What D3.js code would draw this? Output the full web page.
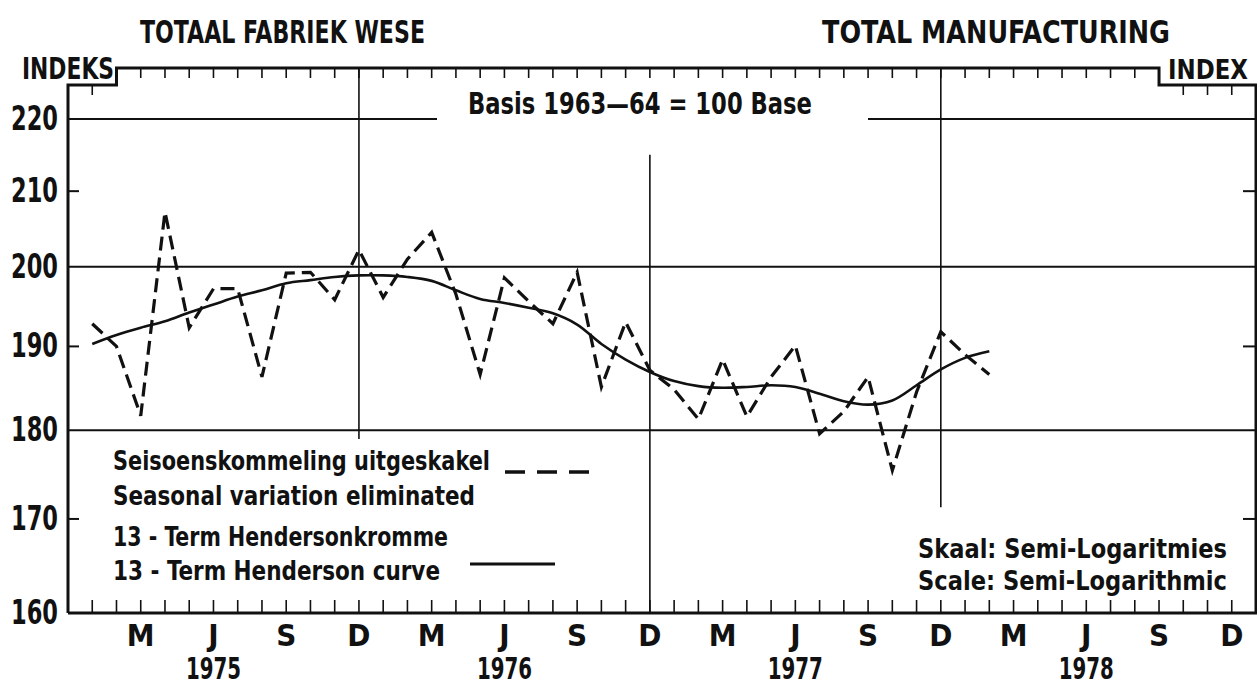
<!DOCTYPE html>
<html><head><meta charset="utf-8">
<script src="https://cdnjs.cloudflare.com/ajax/libs/d3/7.8.5/d3.min.js"></script>
<style>
html,body{margin:0;padding:0;background:#fff;}
svg{display:block;}
text{font-family:"Liberation Sans Narrow","DejaVu Sans Condensed","Roboto Condensed",sans-serif;font-weight:bold;fill:#111;}
</style></head><body>
<svg id="chart" width="1257" height="686"></svg>
<script>
// ---------- DATA ----------
const years = [1975, 1976, 1977, 1978];
const monthNames = ["Jan","Feb","Mar","Apr","May","Jun","Jul","Aug","Sep","Oct","Nov","Dec"];
// quarter tick labels (month -> letter)
const quarterMonths = ["Mar","Jun","Sep","Dec"];
const quarterLetters = ["M","J","S","D"];
const yearLabelMonth = "Jun";
const yTicks = [160, 170, 180, 190, 200, 210, 220];
const yGridFull = [200, 180];
const yGridPartial = [220];
const yTickOnly = [210, 190, 170];

// Seasonally adjusted index, Jan 1975 .. Feb 1978
const seasonal = [
  192.8, 190.0, 181.7, 207.2, 192.3, 197.2, 197.2, 186.3, 199.2, 199.3, 195.8, 202.2,
  196.1, 201.0, 204.5, 196.5, 186.6, 198.6, 195.6, 192.8, 199.3, 185.1, 193.0, 187.1,
  184.8, 181.3, 188.4, 181.6, 186.3, 190.1, 179.6, 182.2, 186.3, 175.4, 184.5, 191.8,
  189.0, 186.6
];
// 13-term Henderson curve, Jan 1975 .. Feb 1978
const henderson = [
  190.3, 191.4, 192.3, 193.1, 194.2, 195.2, 196.2, 197.0, 197.9, 198.3, 198.7, 198.9,
  198.9, 198.7, 198.2, 197.0, 195.9, 195.4, 194.8, 194.1, 192.7, 190.3, 188.4, 186.9,
  185.8, 185.2, 185.0, 185.1, 185.3, 185.1, 184.3, 183.4, 183.0, 183.5, 185.3, 187.2,
  188.6, 189.4
];

// ---------- CATEGORIES ----------
const axisMonths = ["Dec 1974"];
years.forEach(yr => monthNames.forEach(m => axisMonths.push(m + " " + yr)));
axisMonths.push("Jan 1979");
const seriesMonths = axisMonths.slice(1, 1 + seasonal.length);
const plotMonths = axisMonths.slice(1, axisMonths.length - 1);

// ---------- LAYOUT ----------
const L = 68, R = 1256, T = 68, STEP = 85, B = 613, YTOP = 119;
const ink = "#111";
const svg = d3.select("#chart");

const x = d3.scalePoint().domain(axisMonths).range([L, R]);
const y = d3.scaleLog().domain([160, 220]).range([B, YTOP]);

const stepL = x("Feb 1975"), stepR = x("Sep 1978");

function txt(s, px, py, size, opts = {}) {
  const t = svg.append("text").attr("x", px).attr("y", py).attr("font-size", size).text(s);
  if (opts.anchor) t.attr("text-anchor", opts.anchor);
  if (opts.len) t.attr("textLength", opts.len).attr("lengthAdjust", "spacingAndGlyphs");
  if (opts.weight) t.style("font-weight", opts.weight);
  return t;
}

// gridlines
const g = svg.append("g").attr("stroke", ink).attr("fill", "none");
yGridFull.forEach(v => g.append("line").attr("x1", L).attr("x2", R).attr("y1", y(v)).attr("y2", y(v)).attr("stroke-width", 2));

// Basis text + partial 220 gridline around it
txt("Basis 1963\u201464 = 100 Base", 468, 114, 30, {len: 344});
yGridPartial.forEach(v => {
  g.append("line").attr("x1", L).attr("x2", 437).attr("y1", y(v)).attr("y2", y(v)).attr("stroke-width", 2);
  g.append("line").attr("x1", 868).attr("x2", R).attr("y1", y(v)).attr("y2", y(v)).attr("stroke-width", 2);
});

// vertical December lines
g.append("line").attr("x1", x("Dec 1975")).attr("x2", x("Dec 1975")).attr("y1", T).attr("y2", y(179)).attr("stroke-width", 1.6);
g.append("line").attr("x1", x("Dec 1976")).attr("x2", x("Dec 1976")).attr("y1", y(215)).attr("y2", B).attr("stroke-width", 1.6);
g.append("line").attr("x1", x("Dec 1977")).attr("x2", x("Dec 1977")).attr("y1", T).attr("y2", y(171.3)).attr("stroke-width", 1.6);

// frame
const frame = [[L, B], [L, STEP], [stepL, STEP], [stepL, T], [stepR, T], [stepR, STEP], [R, STEP], [R, B], [L, B]];
g.append("path").attr("d", d3.line()(frame)).attr("stroke-width", 3).attr("stroke-linejoin", "miter");

// month ticks (top and bottom)
plotMonths.forEach(m => {
  const px = x(m);
  const top = (px < stepL - 1 || px > stepR + 1) ? STEP : T;
  g.append("line").attr("x1", px).attr("x2", px).attr("y1", top).attr("y2", top + 10).attr("stroke-width", 1.6);
  g.append("line").attr("x1", px).attr("x2", px).attr("y1", B).attr("y2", B - 13).attr("stroke-width", 1.6);
});

// y tick marks (left and right)
yTickOnly.forEach(v => {
  g.append("line").attr("x1", L).attr("x2", L + 11).attr("y1", y(v)).attr("y2", y(v)).attr("stroke-width", 2);
  g.append("line").attr("x1", R).attr("x2", R - 13).attr("y1", y(v)).attr("y2", y(v)).attr("stroke-width", 2);
});

// y labels
yTicks.forEach(v => txt(String(v), 58, y(v) + 11, 33, {anchor: "end", len: 47}));

// x labels
years.forEach(yr => {
  quarterMonths.forEach((m, i) => txt(quarterLetters[i], x(m + " " + yr), 646, 31, {anchor: "middle"}));
  txt(String(yr), x(yearLabelMonth + " " + yr), 679, 31, {anchor: "middle", len: 55});
});

// titles
txt("TOTAAL FABRIEK WESE", 140, 43, 32, {len: 285});
txt("TOTAL MANUFACTURING", 822, 43, 32, {len: 348});
txt("INDEKS", 22, 79, 30, {len: 92});
txt("INDEX", 1248, 79, 26, {anchor: "end", len: 80});

// legend
txt("Seisoenskommeling uitgeskakel", 113, 470, 27, {len: 377});
txt("Seasonal variation eliminated", 113, 505, 27, {len: 362});
txt("13 - Term Hendersonkromme", 113, 546, 27, {len: 335});
txt("13 - Term Henderson curve", 113, 580, 27, {len: 327});
g.append("line").attr("x1", 505).attr("x2", 590).attr("y1", 472).attr("y2", 472)
  .attr("stroke-width", 3.5).attr("stroke-dasharray", "20,12");
g.append("line").attr("x1", 470).attr("x2", 555).attr("y1", 564).attr("y2", 564).attr("stroke-width", 3);

txt("Skaal: Semi-Logaritmies", 918, 558, 27, {len: 309});
txt("Scale: Semi-Logarithmic", 918, 590, 27, {len: 309});

// series
const lineSeasonal = d3.line().x((d, i) => x(seriesMonths[i])).y(d => y(d));
const lineHend = d3.line().x((d, i) => x(seriesMonths[i])).y(d => y(d)).curve(d3.curveCatmullRom.alpha(0.5));

svg.append("path").datum(henderson).attr("d", lineHend)
  .attr("fill", "none").attr("stroke", ink).attr("stroke-width", 2.6);
svg.append("path").datum(seasonal).attr("d", lineSeasonal)
  .attr("fill", "none").attr("stroke", ink).attr("stroke-width", 3.2)
  .attr("stroke-dasharray", "14,7").attr("stroke-linejoin", "miter");
</script>
</body></html>
